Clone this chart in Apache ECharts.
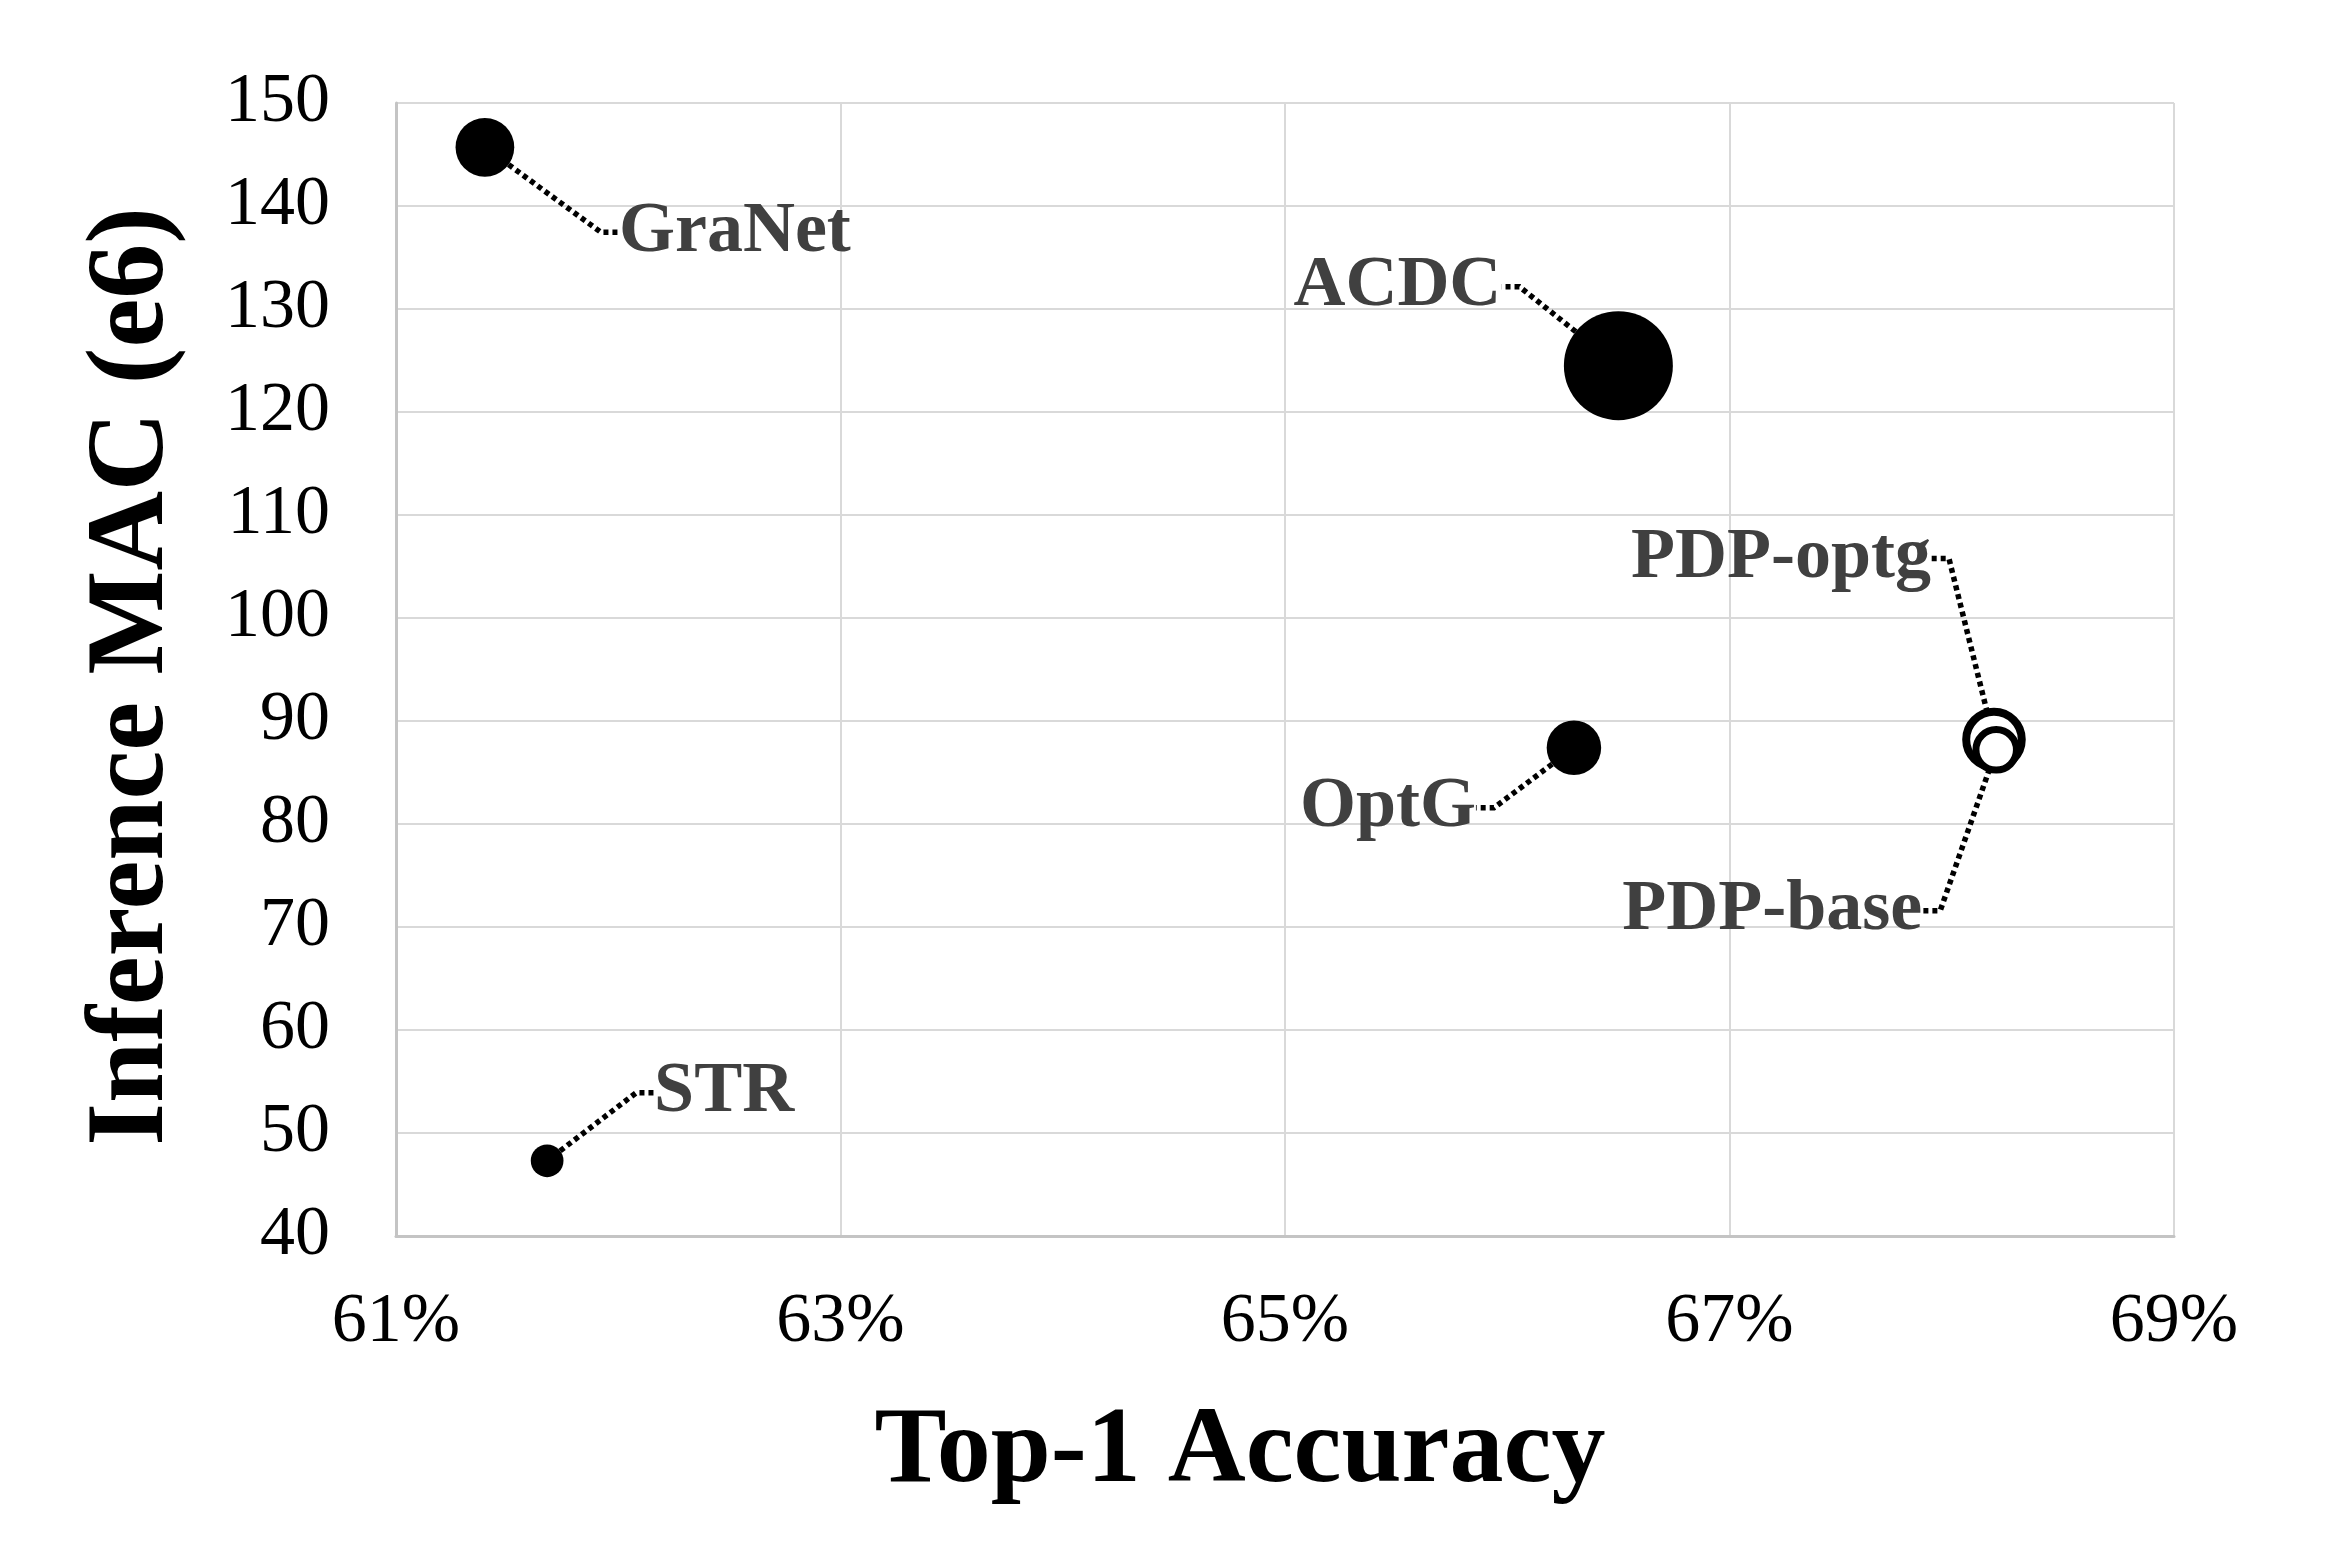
<!DOCTYPE html>
<html>
<head>
<meta charset="utf-8">
<script src="https://cdn.jsdelivr.net/npm/echarts@6/dist/echarts.min.js"></script>
<style>
html,body{margin:0;padding:0;background:#ffffff;}
#chart{width:2337px;height:1562px;}
</style>
</head>
<body>
<div id="chart"></div>
<script>
// ---------------- data ----------------
const names    = ['GraNet', 'ACDC', 'OptG', 'PDP-optg', 'PDP-base', 'STR'];
const accuracy = [61.40, 66.50, 66.30, 68.19, 68.20, 61.68];   // Top-1 accuracy (%)
const mac      = [145.7, 124.5, 87.4, 88.2, 87.2, 47.3];        // Inference MAC (e6)
const bubble   = [0.29, 1.00, 0.25, 0.34, 0.19, 0.09];          // relative bubble size (area)
const xTickValues = [61, 63, 65, 67, 69];
const yTickValues = [40, 50, 60, 70, 80, 90, 100, 110, 120, 130, 140, 150];

// ---------------- styles ----------------
const FONT = '"Liberation Serif", "Times New Roman", serif';
const MAX_DIAMETER = 109;
const hollowBorder = { 'PDP-optg': 8, 'PDP-base': 7 };
const labelOffset = {
  'GraNet':   [250, 85],
  'ACDC':     [-221, -79],
  'OptG':     [-186, 60],
  'PDP-optg': [-213, -181],
  'PDP-base': [-224, 161],
  'STR':      [177, -68]
};
const leaderLineStyle = { color: '#000000', width: 5.5, type: [5, 4], cap: 'butt', opacity: 1 };

const seriesData = names.map((n, i) => {
  const hb = hollowBorder[n];
  return {
    name: n,
    value: [accuracy[i], mac[i], bubble[i]],
    itemStyle: hb ? { color: '#ffffff', borderColor: '#000000', borderWidth: hb, opacity: 1 }
                  : { color: '#000000', borderWidth: 0, opacity: 1 }
  };
});

const chart = echarts.init(document.getElementById('chart'), null, { renderer: 'canvas' });

chart.setOption({
  backgroundColor: '#ffffff',
  animation: false,
  grid: { left: 396, right: 163, top: 103, bottom: 326, outerBoundsMode: 'none' },
  xAxis: {
    type: 'value',
    min: xTickValues[0],
    max: xTickValues[xTickValues.length - 1],
    interval: xTickValues[1] - xTickValues[0],
    name: 'Top-1 Accuracy',
    nameLocation: 'middle',
    nameGap: 163,
    nameTextStyle: { fontFamily: FONT, fontSize: 108, fontWeight: 'bold', color: '#000', padding: [0, 90, 0, 0] },
    axisLine: { show: true, lineStyle: { color: '#c4c4c4', width: 3 } },
    axisTick: { show: false },
    axisLabel: { fontFamily: FONT, fontSize: 70, color: '#000', margin: 52, formatter: v => v + '%' },
    splitLine: { show: true, lineStyle: { color: '#d9d9d9', width: 2 } }
  },
  yAxis: {
    type: 'value',
    min: yTickValues[0],
    max: yTickValues[yTickValues.length - 1],
    interval: yTickValues[1] - yTickValues[0],
    name: 'Inference MAC (e6)',
    nameLocation: 'middle',
    nameGap: 207,
    nameTextStyle: { fontFamily: FONT, fontSize: 110, fontWeight: 'bold', color: '#000', padding: [0, 14, 0, 0] },
    axisLine: { show: true, lineStyle: { color: '#c4c4c4', width: 3 } },
    axisTick: { show: false },
    axisLabel: { fontFamily: FONT, fontSize: 70, color: '#000', margin: 66 },
    splitLine: { show: true, lineStyle: { color: '#d9d9d9', width: 2 } }
  },
  series: [{
    type: 'scatter',
    data: seriesData,
    symbol: 'circle',
    symbolSize: function (val, params) {
      const d = MAX_DIAMETER * Math.sqrt(val[2]);
      const hb = hollowBorder[params.name];
      return hb ? d - hb : d;
    },
    itemStyle: { opacity: 1 },
    label: {
      show: true,
      position: 'inside',
      formatter: p => p.name,
      fontFamily: FONT,
      fontSize: 72,
      fontWeight: 'bold',
      color: '#404040',
      opacity: 1,
      padding: [0, 20, 0, 20]
    },
    labelLayout: function (params) {
      const off = labelOffset[names[params.dataIndex]];
      return { dx: off[0], dy: off[1] };
    },
    labelLine: { show: true, length2: 18, smooth: false, lineStyle: leaderLineStyle },
    emphasis: { disabled: true }
  }]
});
</script>
</body>
</html>
